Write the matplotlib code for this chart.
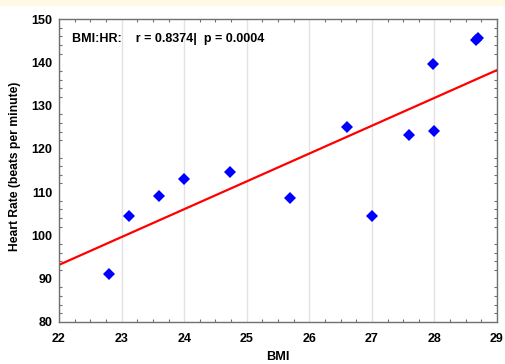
import matplotlib
matplotlib.use("Agg")
import matplotlib.pyplot as plt
from matplotlib.ticker import MultipleLocator
from matplotlib.patches import Rectangle

bmi = [22.8, 23.12, 23.6, 23.99, 24.73, 25.69, 26.6, 27.0, 27.6, 28.0, 27.98, 28.67, 28.7]
heart_rate = [91.0, 104.5, 109.1, 113.05, 114.6, 108.6, 125.1, 104.5, 123.1, 124.1, 139.7, 145.2, 145.6]
fit_x = [22, 29]
fit_y = [93.2, 138.2]
x_ticks = [22, 23, 24, 25, 26, 27, 28, 29]
y_ticks = [80, 90, 100, 110, 120, 130, 140, 150]
stats_text = "BMI:HR:    r = 0.8374|  p = 0.0004"

plt.rcParams['font.family'] = ['Liberation Sans', 'DejaVu Sans']

fig = plt.figure(figsize=(5.05, 3.64), dpi=100)
fig.patch.set_facecolor('white')
fig.patches.append(Rectangle((0, 1 - 6 / 364), 1, 6 / 364, transform=fig.transFigure,
                             facecolor='#FFF9E6', edgecolor='none', zorder=-10))
ax = fig.add_axes([59 / 505, 1 - 322 / 364, (497 - 59) / 505, (322 - 19) / 364])

ax.set_xlim(22, 29)
ax.set_ylim(80, 150)
ax.set_xticks(x_ticks)
ax.set_yticks(y_ticks)
ax.xaxis.set_minor_locator(MultipleLocator(0.25))
ax.yaxis.set_minor_locator(MultipleLocator(2))
ax.grid(axis='x', which='major', color='#E2E2E2', linewidth=1.0, zorder=0)
ax.set_axisbelow(True)

ax.plot(fit_x, fit_y, color='#FF0000', linewidth=1.6, zorder=2)
ax.plot(bmi, heart_rate, linestyle='none', marker='D', markersize=5.8,
        color='#0000FF', markeredgewidth=0, zorder=3)

for s in ax.spines.values():
    s.set_color('#707070')
    s.set_linewidth(1.0)
ax.tick_params(which='both', direction='in', top=True, right=True, color='#707070')
ax.tick_params(which='major', length=0, labelsize=9)
ax.tick_params(axis='x', which='major', pad=8)
ax.tick_params(axis='y', which='major', pad=5)
ax.tick_params(which='minor', length=2.5, width=0.8)
for lab in ax.get_xticklabels() + ax.get_yticklabels():
    lab.set_fontweight('bold')

ax.set_xlabel('BMI', fontsize=9.2, fontweight='bold')
ax.xaxis.set_label_coords(0.5, -(351 - 322) / 303)
ax.set_ylabel('Heart Rate (beats per minute)', fontsize=8.7, fontweight='bold')
ax.yaxis.set_label_coords(-(59 - 21) / 438, 0.515)
ax.text((71.7 - 59) / 438, 0.934, stats_text, transform=ax.transAxes, fontsize=9,
        fontweight='bold', ha='left', va='center')

fig.savefig('out.png', dpi=100, facecolor=fig.get_facecolor())
